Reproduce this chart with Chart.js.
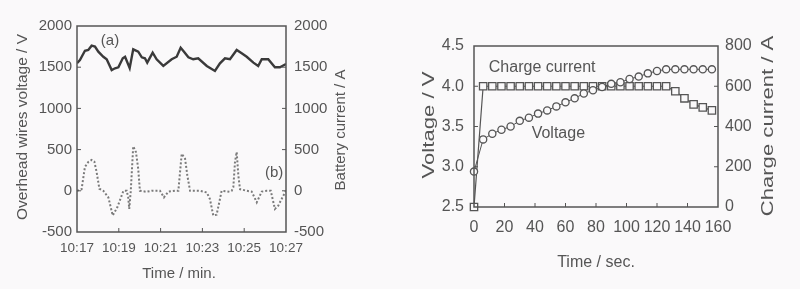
<!DOCTYPE html>
<html><head><meta charset="utf-8">
<script src="https://cdn.jsdelivr.net/npm/chart.js@4.4.0/dist/chart.umd.min.js"></script>
<style>
html,body{margin:0;padding:0;background:#faf9fa;width:800px;height:289px;overflow:hidden}
canvas{position:absolute;top:0}
#c1{left:0}
#c2{left:400px}
</style></head><body>
<canvas id="c1" width="400" height="289"></canvas>
<canvas id="c2" width="400" height="289"></canvas>
<script>
// ---- Left chart data (time in minutes after 10:17) ----
const wireTimeMin = [0,0.14,0.38,0.54,0.70,0.86,1.02,1.26,1.42,1.66,1.82,1.98,2.19,2.30,2.52,2.69,2.93,3.10,3.25,3.36,3.62,3.81,4.13,4.53,4.77,4.96,5.12,5.33,5.56,5.80,6.21,6.60,6.84,7.08,7.32,7.64,7.88,8.12,8.44,8.67,8.84,9.15,9.47,9.71,10];
const wireVoltage = [1547,1587,1700,1709,1761,1751,1688,1627,1596,1466,1487,1499,1608,1627,1490,1717,1688,1620,1608,1555,1676,1596,1515,1596,1627,1737,1688,1620,1596,1608,1515,1454,1547,1608,1596,1709,1669,1627,1555,1515,1596,1596,1499,1499,1539];
const battTimeMin = [0,0.22,0.38,0.54,0.70,0.83,0.94,1.07,1.26,1.50,1.71,1.93,2.22,2.38,2.45,2.50,2.57,2.69,2.82,2.93,3.01,3.33,3.57,3.97,4.16,4.37,4.69,4.85,5.01,5.17,5.28,5.41,5.89,6.21,6.36,6.52,6.68,6.84,6.92,7.24,7.40,7.48,7.56,7.64,7.72,7.80,8.12,8.36,8.60,8.84,9.08,9.27,9.47,9.63,9.87,10];
const battCurrent = [0,20,290,350,375,355,225,25,0,-80,-300,-200,0,0,-80,-220,-10,540,470,265,0,-12,0,0,-80,-10,0,0,450,390,185,0,0,-20,-100,-300,-290,-100,0,-10,0,45,350,470,185,20,0,-10,-140,-10,0,0,-220,-180,-60,0];
const timeTickMin = [0,2,4,6,8,10];
const timeTickLabels = ['10:17','10:19','10:21','10:23','10:25','10:27'];
const leftNotes = ['(a)','(b)'];

// ---- Right chart data (time in seconds) ----
const chargeTimeSec = [0,6,12,18,24,30,36,42,48,54,60,66,72,78,84,90,96,102,108,114,120,126,132,138,144,150,156];
const cellVoltage = [2.94,3.34,3.41,3.46,3.50,3.57,3.61,3.66,3.70,3.75,3.80,3.85,3.91,3.95,3.99,4.03,4.05,4.09,4.12,4.16,4.19,4.21,4.21,4.21,4.21,4.21,4.21];
const chargeCurrent = [0,600,600,600,600,600,600,600,600,600,600,600,600,600,600,600,600,600,600,600,600,600,575,540,510,495,480];
const rightNotes = ['Charge current','Voltage'];

const FONT = "'Liberation Sans', Arial, sans-serif";
const TXT = '#555';
const pts = (xs, ys) => xs.map((x, i) => ({x, y: ys[i]}));
const plain = v => String(v);

const framePlugin = {
  id: 'frame',
  afterDatasetsDraw(chart, args, o) {
    const {ctx, chartArea: a} = chart;
    ctx.save();
    ctx.strokeStyle = o.color;
    ctx.lineWidth = o.width;
    ctx.strokeRect(a.left, a.top, a.right - a.left, a.bottom - a.top);
    ctx.lineWidth = 1;
    const L = o.tick;
    const line = (x1, y1, x2, y2) => { ctx.beginPath(); ctx.moveTo(x1, y1); ctx.lineTo(x2, y2); ctx.stroke(); };
    Object.values(chart.scales).forEach(s => {
      s.ticks.forEach(t => {
        const p = s.getPixelForValue(t.value);
        if (s.isHorizontal()) {
          if (p <= a.left + 1 || p >= a.right - 1) return;
          line(p, a.bottom, p, a.bottom - L);
        } else {
          if (p <= a.top + 1 || p >= a.bottom - 1) return;
          if (s.position === 'left') line(a.left, p, a.left + L, p);
          else line(a.right, p, a.right - L, p);
        }
      });
    });
    ctx.restore();
  }
};

const textPlugin = {
  id: 'texts',
  afterDraw(chart, args, o) {
    const ctx = chart.ctx;
    (o.items || []).forEach(it => {
      let x = it.x, y = it.y;
      if (it.dx !== undefined) {
        x = chart.scales.x.getPixelForValue(it.dx);
        y = chart.scales[it.axis].getPixelForValue(it.dy);
      }
      ctx.save();
      ctx.font = it.size + 'px ' + FONT;
      ctx.fillStyle = TXT;
      ctx.textAlign = 'center';
      ctx.textBaseline = 'middle';
      ctx.translate(x, y);
      if (it.rot) ctx.rotate(it.rot);
      if (it.stretch) ctx.scale(it.stretch, 1);
      ctx.fillText(it.text, 0, 0);
      ctx.restore();
    });
  }
};

function fixSize(prop, v) { return s => { s[prop] = v; }; }

// ---- Left chart ----
new Chart(document.getElementById('c1'), {
  type: 'line',
  data: {
    datasets: [
      { data: pts(wireTimeMin, wireVoltage), yAxisID: 'y', borderColor: '#3a3a3a', borderWidth: 2.4, pointRadius: 0, tension: 0 },
      { data: pts(battTimeMin, battCurrent), yAxisID: 'y1', borderColor: '#7a7a7a', borderWidth: 2, borderDash: [2, 2], pointRadius: 0, tension: 0 }
    ]
  },
  options: {
    responsive: false, animation: false,
    layout: { padding: { top: 26, left: 0, right: 0, bottom: 0 } },
    plugins: {
      legend: { display: false }, tooltip: { enabled: false },
      frame: { color: '#555', width: 1.5, tick: 4 },
      texts: { items: [
        { text: 'Overhead wires voltage / V', x: 23, y: 127, rot: -Math.PI / 2, size: 15.5 },
        { text: 'Battery current / A', x: 341, y: 130, rot: -Math.PI / 2, size: 15 },
        { text: 'Time / min.', x: 179, y: 274, size: 15 },
        { text: leftNotes[0], dx: 1.58, dy: 1822, axis: 'y', size: 15 },
        { text: leftNotes[1], dx: 9.43, dy: 220, axis: 'y1', size: 15 }
      ] }
    },
    scales: {
      x: {
        type: 'linear', min: 0, max: 10,
        afterBuildTicks: s => { s.ticks = timeTickMin.map(v => ({ value: v })); },
        afterFit: fixSize('height', 57),
        grid: { display: false, drawTicks: false }, border: { display: false },
        ticks: { padding: 8, color: TXT, font: { family: FONT, size: 13.5 }, maxRotation: 0, callback: (v, i) => timeTickLabels[i] }
      },
      y: {
        position: 'left', min: -500, max: 2000,
        afterFit: fixSize('width', 77),
        grid: { display: false, drawTicks: false }, border: { display: false },
        ticks: { stepSize: 500, padding: 5, color: TXT, font: { family: FONT, size: 15 }, callback: plain }
      },
      y1: {
        position: 'right', min: -500, max: 2000,
        afterFit: fixSize('width', 114),
        grid: { display: false, drawTicks: false }, border: { display: false },
        ticks: { stepSize: 500, padding: 8, color: TXT, font: { family: FONT, size: 15 }, callback: plain }
      }
    }
  },
  plugins: [framePlugin, textPlugin]
});

// ---- Right chart ----
new Chart(document.getElementById('c2'), {
  type: 'line',
  data: {
    datasets: [
      { data: pts(chargeTimeSec, cellVoltage), yAxisID: 'y', borderColor: '#555', borderWidth: 1, pointStyle: 'circle', pointRadius: 3.6, pointBorderWidth: 1.3, pointBorderColor: '#555', pointBackgroundColor: '#faf9fa', clip: false, tension: 0 },
      { data: pts(chargeTimeSec, chargeCurrent), yAxisID: 'y1', borderColor: '#555', borderWidth: 1.2, pointStyle: 'rect', pointRadius: 5.2, pointBorderWidth: 1.3, pointBorderColor: '#555', pointBackgroundColor: '#faf9fa', clip: false, tension: 0 }
    ]
  },
  options: {
    responsive: false, animation: false,
    layout: { padding: { top: 46, left: 0, right: 0, bottom: 0 } },
    plugins: {
      legend: { display: false }, tooltip: { enabled: false },
      frame: { color: '#555', width: 1.5, tick: 4 },
      texts: { items: [
        { text: 'Voltage / V', x: 29, y: 125, rot: -Math.PI / 2, size: 17, stretch: 1.3 },
        { text: 'Charge current / A', x: 368, y: 126, rot: -Math.PI / 2, size: 17, stretch: 1.3 },
        { text: 'Time / sec.', x: 196, y: 263, size: 16 },
        { text: rightNotes[0], dx: 44.7, dy: 4.227, axis: 'y', size: 16 },
        { text: rightNotes[1], dx: 55.3, dy: 3.41, axis: 'y', size: 16 }
      ] }
    },
    scales: {
      x: {
        type: 'linear', min: 0, max: 160,
        afterFit: fixSize('height', 82),
        grid: { display: false, drawTicks: false }, border: { display: false },
        ticks: { stepSize: 20, padding: 11, color: TXT, font: { family: FONT, size: 16 }, maxRotation: 0, callback: plain }
      },
      y: {
        position: 'left', min: 2.5, max: 4.5,
        afterFit: fixSize('width', 74),
        grid: { display: false, drawTicks: false }, border: { display: false },
        ticks: { stepSize: 0.5, padding: 10, color: TXT, font: { family: FONT, size: 16 }, callback: v => v.toFixed(1) }
      },
      y1: {
        position: 'right', min: 0, max: 800,
        afterFit: fixSize('width', 82),
        grid: { display: false, drawTicks: false }, border: { display: false },
        ticks: { stepSize: 200, padding: 7, color: TXT, font: { family: FONT, size: 16 }, callback: plain }
      }
    }
  },
  plugins: [framePlugin, textPlugin]
});
</script>
</body></html>
